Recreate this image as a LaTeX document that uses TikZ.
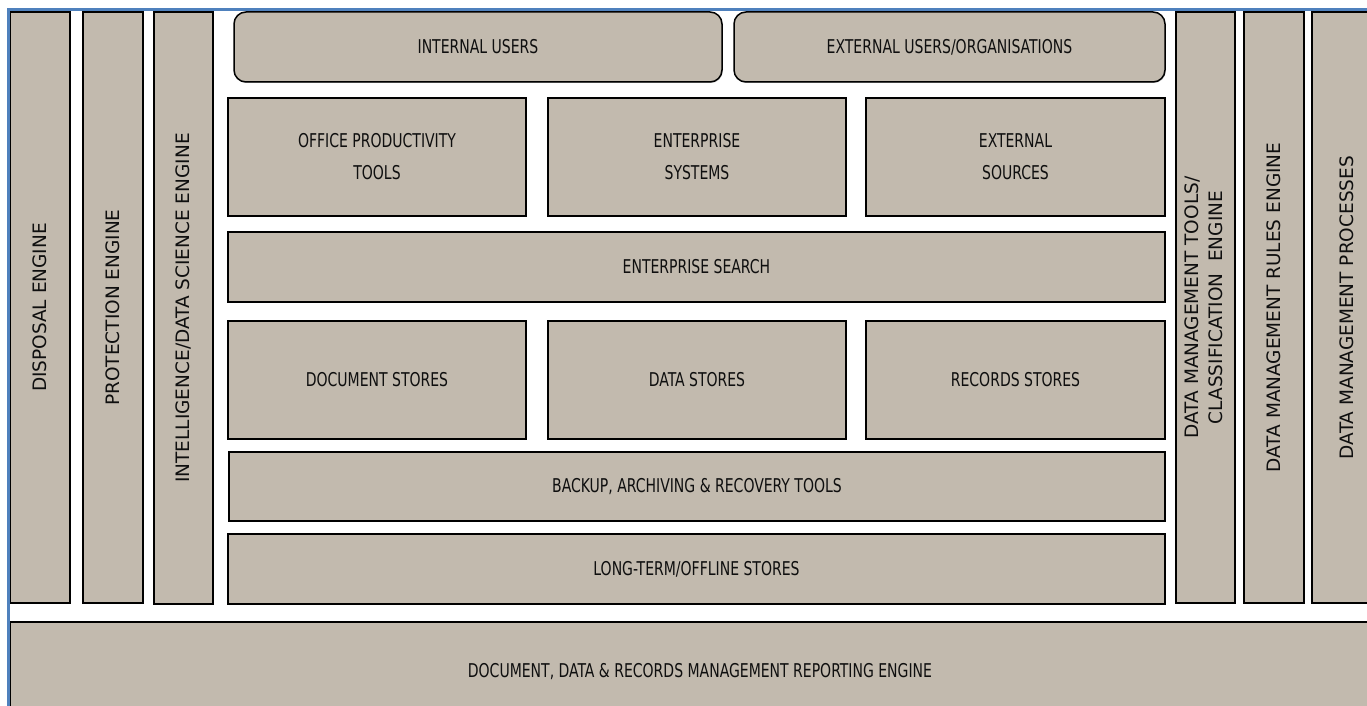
\documentclass[tikz,border=0pt]{standalone}
\usepackage{fontspec}
\setmainfont{DejaVu Sans}
\newfontfamily\narrowf[FakeStretch=0.82]{DejaVu Sans Condensed}
\usetikzlibrary{shadows}
\definecolor{boxfill}{RGB}{194,186,174}
\definecolor{frameblue}{RGB}{79,129,189}
\definecolor{textc}{RGB}{15,15,15}
\tikzset{
  box/.style={draw=black, line width=1.5pt, fill=boxfill, inner sep=0pt, outer sep=0pt,
    anchor=north west, text=textc,
    drop shadow={shadow xshift=0.8pt, shadow yshift=-1pt, fill=black!35, opacity=0.7}},
  hbox/.style={box, font=\narrowf\fontsize{19}{32}\selectfont, align=center},
  vbox/.style={box, font=\fontsize{18.5}{24}\selectfont},
  ubox/.style={hbox, rounded corners=12pt},
  frameline/.style={draw=frameblue, line width=2.5pt}
}
\begin{document}
\begin{tikzpicture}[x=1pt,y=-1pt]
\useasboundingbox (0,0) rectangle (1367,706);
\clip (0,0) rectangle (1367,706);
% left columns
\node[vbox, minimum width=60pt, minimum height=591pt] (disp) at (10,12) {\rotatebox{90}{DISPOSAL ENGINE}};
\node[vbox, minimum width=60pt, minimum height=591pt] (prot) at (83,12) {\rotatebox{90}{PROTECTION ENGINE}};
\node[vbox, minimum width=59pt, minimum height=592pt] (intel) at (154,12) {\rotatebox{90}{INTELLIGENCE/DATA SCIENCE ENGINE}};
% users
\node[ubox, minimum width=488pt, minimum height=70pt] (intu) at (234,12) {INTERNAL USERS};
\node[ubox, minimum width=431pt, minimum height=70pt] (extu) at (734,12) {EXTERNAL USERS/ORGANISATIONS};
% sources
\node[hbox, minimum width=298pt, minimum height=118pt] (office) at (228,98) {OFFICE PRODUCTIVITY\\TOOLS};
\node[hbox, minimum width=298pt, minimum height=118pt] (ent) at (548,98) {ENTERPRISE\\SYSTEMS};
\node[hbox, minimum width=299pt, minimum height=118pt] (extsrc) at (866,98) {EXTERNAL\\SOURCES};
% search
\node[hbox, minimum width=937pt, minimum height=70pt] (search) at (228,232) {ENTERPRISE SEARCH};
% stores
\node[hbox, minimum width=298pt, minimum height=118pt] (doc) at (228,321) {DOCUMENT STORES};
\node[hbox, minimum width=298pt, minimum height=118pt] (data) at (548,321) {DATA STORES};
\node[hbox, minimum width=299pt, minimum height=118pt] (rec) at (866,321) {RECORDS STORES};
% backup and long-term
\node[hbox, minimum width=936pt, minimum height=69pt] (backup) at (229,452) {BACKUP, ARCHIVING \& RECOVERY TOOLS};
\node[hbox, minimum width=937pt, minimum height=70pt] (long) at (228,534) {LONG-TERM/OFFLINE STORES};
% right columns
\node[vbox, minimum width=59pt, minimum height=591pt] (dmt) at (1176,12) {\rotatebox{90}{\begin{tabular}{@{}c@{}}DATA MANAGEMENT TOOLS/\\CLASSIFICATION\ \ ENGINE\end{tabular}}};
\node[vbox, minimum width=60pt, minimum height=591pt] (rules) at (1244,12) {\rotatebox{90}{DATA MANAGEMENT RULES ENGINE}};
\node[vbox, minimum width=70pt, minimum height=591pt] (proc) at (1312,12) {\rotatebox{90}{DATA MANAGEMENT PROCESSES}};
% reporting
\node[hbox, minimum width=1380pt, minimum height=100pt] (report) at (10,622) {DOCUMENT, DATA \& RECORDS MANAGEMENT REPORTING ENGINE};
% blue frame
\coordinate (ftl) at (8.5,9.5);
\coordinate (ftr) at (1370,9.5);
\coordinate (fbl) at (8.5,710);
\draw[frameline] (fbl) -- (ftl) -- (ftr);
\end{tikzpicture}
\end{document}
